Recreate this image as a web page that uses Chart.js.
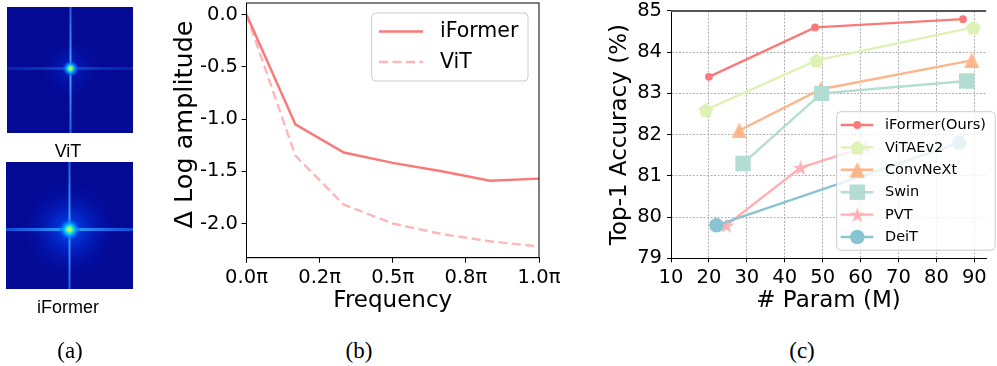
<!DOCTYPE html>
<html><head><meta charset="utf-8">
<script src="https://cdn.jsdelivr.net/npm/chart.js@4.4.0/dist/chart.umd.min.js"></script>
<style>
html,body{margin:0;padding:0;background:#fff;width:997px;height:366px;overflow:hidden;position:relative}
canvas{position:absolute}
.lab{position:absolute;font-family:'Liberation Serif','Times New Roman',serif;font-size:23px;color:#000;transform:translate(-50%,-50%);white-space:nowrap;line-height:1}
.sub{position:absolute;font-family:'Liberation Sans',Arial,sans-serif;font-size:18px;color:#000;transform:translate(-50%,-50%);white-space:nowrap;line-height:1}
</style></head><body>
<canvas id="specA" width="140" height="300" style="left:0;top:0"></canvas>
<div class="sub" style="left:68px;top:151px">ViT</div>
<div class="sub" style="left:68px;top:307px">iFormer</div>
<canvas id="chartB" width="430" height="330" style="left:170px;top:0"></canvas>
<canvas id="chartC" width="397" height="330" style="left:600px;top:0"></canvas>
<div class="lab" style="left:70px;top:350px">(a)</div>
<div class="lab" style="left:359px;top:350px">(b)</div>
<div class="lab" style="left:802px;top:350px">(c)</div>
<script>
// ---------- data: panel (b) ----------
const freqValues = [0, 0.167, 0.333, 0.5, 0.667, 0.833, 1.0];
const iformerAmp = [0, -1.05, -1.32, -1.42, -1.50, -1.59, -1.57];
const vitAmp = [0, -1.35, -1.82, -2.00, -2.10, -2.17, -2.22];
const freqTickValues = [0, 0.25, 0.5, 0.75, 1.0];
const freqTickLabels = ['0.0π', '0.2π', '0.5π', '0.8π', '1.0π'];
const ampTickValues = [-2.0, -1.5, -1.0, -0.5, 0];
const ampTickLabels = ['-2.0', '-1.5', '-1.0', '-0.5', '0.0'];
const ampSeriesNames = ['iFormer', 'ViT'];
const ampAxisTitle = 'Δ Log amplitude';

// ---------- data: panel (c) ----------
const modelNames = ['iFormer(Ours)', 'ViTAEv2', 'ConvNeXt', 'Swin', 'PVT', 'DeiT'];
const iformerParams = [20, 48, 87];      const iformerAcc = [83.4, 84.6, 84.8];
const vitaeParams = [19.2, 48.4, 89.7];  const vitaeAcc = [82.6, 83.8, 84.6];
const convnextParams = [28, 49.5, 89.3]; const convnextAcc = [82.1, 83.1, 83.8];
const swinParams = [29, 49.7, 88];       const swinAcc = [81.3, 83.0, 83.3];
const pvtParams = [24.6, 44.2, 61.4];    const pvtAcc = [79.8, 81.2, 81.7];
const deitParams = [22, 86];             const deitAcc = [79.8, 81.8];
const paramTicks = [10, 20, 30, 40, 50, 60, 70, 80, 90];
const accTicks = [79, 80, 81, 82, 83, 84, 85];

Chart.defaults.font.family = "'DejaVu Sans', sans-serif";
Chart.defaults.color = '#000';
Chart.defaults.animation = false;

// ---------- panel (a): decorative spectra ----------
(function(){
  const g = document.getElementById('specA').getContext('2d');
  function spectrum(x, y, w, h, cx, cy, wide) {
    g.save();
    g.beginPath(); g.rect(x, y, w, h); g.clip();
    g.fillStyle = 'rgb(4,10,148)'; g.fillRect(x, y, w, h);
    let R = wide ? 48 : 30;
    let gr = g.createRadialGradient(cx, cy, 0, cx, cy, R);
    if (wide) {
      gr.addColorStop(0, 'rgba(0,90,255,0.85)');
      gr.addColorStop(0.35, 'rgba(0,60,240,0.55)');
      gr.addColorStop(0.7, 'rgba(0,35,210,0.25)');
      gr.addColorStop(1, 'rgba(0,20,180,0)');
    } else {
      gr.addColorStop(0, 'rgba(0,60,240,0.5)');
      gr.addColorStop(1, 'rgba(0,20,180,0)');
    }
    g.fillStyle = gr; g.fillRect(x, y, w, h);
    let lg = g.createLinearGradient(x, 0, x + w, 0);
    const hA = wide ? 0.95 : 0.35;
    lg.addColorStop(0, 'rgba(20,110,255,' + (hA*0.7) + ')');
    lg.addColorStop(0.5, 'rgba(40,170,255,' + hA + ')');
    lg.addColorStop(1, 'rgba(20,110,255,' + (hA*0.7) + ')');
    g.fillStyle = lg; g.fillRect(x, cy - 1.5, w, 3);
    let vg = g.createLinearGradient(0, y, 0, y + h);
    vg.addColorStop(0, 'rgba(40,120,255,0.8)');
    vg.addColorStop(0.5, 'rgba(60,170,255,1)');
    vg.addColorStop(1, 'rgba(40,120,255,0.8)');
    g.fillStyle = vg; g.fillRect(cx - 1, y, 2, h);
    R = wide ? 11 : 8;
    gr = g.createRadialGradient(cx, cy, 0, cx, cy, R);
    gr.addColorStop(0, 'rgba(255,240,40,1)');
    gr.addColorStop(0.2, 'rgba(120,255,120,1)');
    gr.addColorStop(0.45, 'rgba(0,200,255,0.9)');
    gr.addColorStop(0.75, 'rgba(0,110,255,0.6)');
    gr.addColorStop(1, 'rgba(0,60,230,0)');
    g.fillStyle = gr; g.fillRect(cx - R, cy - R, 2*R, 2*R);
    g.restore();
  }
  spectrum(7, 7, 126, 126, 70.5, 68.5, false);
  spectrum(6, 162, 127, 127, 69.5, 229.5, true);
})();

// ---------- panel (b) ----------
const ampColors = ['#fa7878', '#ffb6b6'];
const ampDashes = [[], [9, 4.5]];
const ampSeries = [iformerAmp, vitAmp];

new Chart(document.getElementById('chartB'), {
  type: 'line',
  data: {
    datasets: ampSeries.map((s, k) => ({
      label: ampSeriesNames[k],
      data: freqValues.map((f, i) => ({x: f, y: s[i]})),
      borderColor: ampColors[k], borderWidth: 2.4, borderDash: ampDashes[k],
      pointRadius: 0, fill: false, tension: 0, order: k
    }))
  },
  options: {
    responsive: false, devicePixelRatio: 1, animation: false,
    layout: {padding: {top: 3, right: 61, left: 0, bottom: 0}},
    plugins: {legend: {display: false}, tooltip: {enabled: false}},
    scales: {
      x: {
        type: 'linear', min: 0, max: 1,
        afterBuildTicks: s => { s.ticks = freqTickValues.map(v => ({value: v})); },
        ticks: {callback: (v, i) => freqTickLabels[i], font: {size: 19.5}, color: '#000', padding: 4, maxRotation: 0, autoSkip: false},
        grid: {drawOnChartArea: false, drawTicks: true, tickLength: 5, tickColor: '#000', color: '#000'},
        border: {display: true, color: '#000', width: 1},
        title: {display: true, text: 'Frequency', font: {size: 23, lineHeight: 1}, color: '#000', padding: {top: 0, bottom: 17.5}},
        afterFit: s => { s.height = 72.3; s.paddingLeft = 0; s.paddingRight = 0; }
      },
      y: {
        type: 'linear', min: -2.327, max: 0.111,
        afterBuildTicks: s => { s.ticks = ampTickValues.map(v => ({value: v})); },
        ticks: {callback: (v, i) => ampTickLabels[i], font: {size: 19.5}, color: '#000', padding: 3.5, autoSkip: false},
        grid: {drawOnChartArea: false, drawTicks: true, tickLength: 5, tickColor: '#000', color: '#000'},
        border: {display: true, color: '#000', width: 1},
        title: {display: false},
        afterFit: s => { s.width = 76.5; s.paddingTop = 0; s.paddingBottom = 0; }
      }
    }
  },
  plugins: [{
    id: 'frameLegendB',
    afterDraw(chart) {
      const ctx = chart.ctx, a = chart.chartArea;
      ctx.save();
      ctx.strokeStyle = '#000'; ctx.lineWidth = 1;
      ctx.strokeRect(a.left, a.top, a.right - a.left, a.bottom - a.top);
      // y axis title
      ctx.save();
      ctx.translate(15, 124.5); ctx.rotate(-Math.PI / 2);
      ctx.font = "25.5px 'DejaVu Sans', sans-serif"; ctx.textAlign = 'center'; ctx.textBaseline = 'middle';
      ctx.fillStyle = '#000'; ctx.fillText(ampAxisTitle, 0, 0);
      ctx.restore();
      // legend box
      const bx = 201.7, by = 13, bw = 156.3, bh = 68;
      ctx.beginPath(); ctx.roundRect(bx, by, bw, bh, 4);
      ctx.fillStyle = 'rgba(255,255,255,0.8)'; ctx.fill();
      ctx.strokeStyle = '#cccccc'; ctx.lineWidth = 1; ctx.stroke();
      const ys = [31.5, 62];
      ctx.font = "20.5px 'DejaVu Sans', sans-serif"; ctx.textBaseline = 'middle'; ctx.textAlign = 'left';
      ampSeriesNames.forEach((n, k) => {
        ctx.beginPath(); ctx.setLineDash(ampDashes[k]);
        ctx.strokeStyle = ampColors[k]; ctx.lineWidth = 2.4;
        ctx.moveTo(209, ys[k]); ctx.lineTo(253, ys[k]); ctx.stroke();
        ctx.setLineDash([]);
        ctx.fillStyle = '#000'; ctx.fillText(n, 270, ys[k] + 0.5);
      });
      ctx.restore();
    }
  }]
});

// ---------- panel (c) ----------
function makeMarker(kind, size, color) {
  const c = document.createElement('canvas');
  c.width = size; c.height = size;
  const g = c.getContext('2d');
  g.fillStyle = color;
  const m = size / 2;
  g.beginPath();
  if (kind === 'pentagon') {
    const r = m - 0.3;
    for (let k = 0; k < 5; k++) {
      const a = -Math.PI / 2 + k * 2 * Math.PI / 5;
      const px = m + r * Math.cos(a), py = m + 0.8 + r * Math.sin(a);
      if (k) g.lineTo(px, py); else g.moveTo(px, py);
    }
  } else if (kind === 'star') {
    const R = m - 0.2, rr = R * 0.382;
    for (let k = 0; k < 10; k++) {
      const a = -Math.PI / 2 + k * Math.PI / 5;
      const r = k % 2 ? rr : R;
      const px = m + r * Math.cos(a), py = m + 0.8 + r * Math.sin(a);
      if (k) g.lineTo(px, py); else g.moveTo(px, py);
    }
  } else if (kind === 'triangle') {
    g.moveTo(m, 0.3); g.lineTo(size - 0.3, size - 0.3); g.lineTo(0.3, size - 0.3);
  }
  g.closePath(); g.fill();
  return c;
}

const modelColors = ['#f97a7a', '#ddf2b4', '#fdb68b', '#b3ddd2', '#ffb0b3', '#88c4d2'];
const modelParams = [iformerParams, vitaeParams, convnextParams, swinParams, pvtParams, deitParams];
const modelAcc = [iformerAcc, vitaeAcc, convnextAcc, swinAcc, pvtAcc, deitAcc];
const modelStyles = [
  'circle',
  makeMarker('pentagon', 16, modelColors[1]),
  makeMarker('triangle', 16, modelColors[2]),
  'rect',
  makeMarker('star', 17, modelColors[4]),
  'circle'
];
const modelRadius = [3.9, 8, 8, 10.9, 8, 7.3];

function drawMarker(ctx, style, r, color, x, y) {
  if (typeof style !== 'string') { ctx.drawImage(style, x - style.width / 2, y - style.height / 2); return; }
  ctx.fillStyle = color;
  if (style === 'circle') { ctx.beginPath(); ctx.arc(x, y, r, 0, Math.PI * 2); ctx.fill(); }
  else if (style === 'rect') { const h = r * Math.SQRT1_2; ctx.fillRect(x - h, y - h, 2 * h, 2 * h); }
}

new Chart(document.getElementById('chartC'), {
  type: 'line',
  data: {
    datasets: modelNames.map((n, k) => ({
      label: n,
      data: modelParams[k].map((p, i) => ({x: p, y: modelAcc[k][i]})),
      borderColor: modelColors[k], backgroundColor: modelColors[k],
      pointBackgroundColor: modelColors[k], pointBorderColor: modelColors[k], pointBorderWidth: 0,
      pointStyle: modelStyles[k], pointRadius: modelRadius[k], pointHoverRadius: modelRadius[k],
      borderWidth: 2.4, fill: false, tension: 0, order: modelNames.length - k
    }))
  },
  options: {
    responsive: false, devicePixelRatio: 1, animation: false,
    layout: {padding: {top: 10.7, right: 0, left: 0, bottom: 0}},
    plugins: {legend: {display: false}, tooltip: {enabled: false}},
    scales: {
      x: {
        type: 'linear', min: 10, max: 93.1,
        afterBuildTicks: s => { s.ticks = paramTicks.map(v => ({value: v})); },
        ticks: {font: {size: 19.5}, color: '#000', padding: 4, maxRotation: 0, autoSkip: false},
        grid: {color: '#b0b0b0', lineWidth: 1, drawTicks: true, tickLength: 4, tickColor: '#000'},
        border: {display: true, color: '#000', width: 1, dash: [2, 1.5]},
        title: {display: true, text: '# Param (M)', font: {size: 23, lineHeight: 1}, color: '#000', padding: {top: 0, bottom: 17.5}},
        afterFit: s => { s.height = 71.7; s.paddingLeft = 0; s.paddingRight = 0; }
      },
      y: {
        type: 'linear', min: 79, max: 85,
        afterBuildTicks: s => { s.ticks = accTicks.map(v => ({value: v})); },
        ticks: {font: {size: 19.5}, color: '#000', padding: 5, autoSkip: false},
        grid: {color: '#b0b0b0', lineWidth: 1, drawTicks: true, tickLength: 4, tickColor: '#000'},
        border: {display: true, color: '#000', width: 1, dash: [2, 1.5]},
        title: {display: true, text: 'Top-1 Accuracy (%)', font: {size: 23, lineHeight: 1}, color: '#000', padding: {top: 8.5, bottom: 0}},
        afterFit: s => { s.width = 71; s.paddingTop = 0; s.paddingBottom = 0; }
      }
    }
  },
  plugins: [{
    id: 'frameLegendC',
    afterDraw(chart) {
      const ctx = chart.ctx, a = chart.chartArea;
      ctx.save();
      ctx.strokeStyle = '#555'; ctx.lineWidth = 2;
      ctx.beginPath(); ctx.moveTo(a.left, a.top); ctx.lineTo(a.right, a.top); ctx.stroke();
      const bx = 236.7, by = 111.7, bw = 158.5, bh = 138.5;
      ctx.beginPath(); ctx.roundRect(bx, by, bw, bh, 4);
      ctx.fillStyle = 'rgba(255,255,255,0.8)'; ctx.fill();
      ctx.strokeStyle = '#cccccc'; ctx.lineWidth = 1; ctx.stroke();
      ctx.font = "14.5px 'DejaVu Sans', sans-serif"; ctx.textBaseline = 'middle'; ctx.textAlign = 'left';
      modelNames.forEach((n, k) => {
        const y = 125 + k * 22.4;
        ctx.beginPath(); ctx.strokeStyle = modelColors[k]; ctx.lineWidth = 2.4;
        ctx.moveTo(240.7, y); ctx.lineTo(273.3, y); ctx.stroke();
        drawMarker(ctx, modelStyles[k], modelRadius[k], modelColors[k], 257.3, y);
        ctx.fillStyle = '#000'; ctx.fillText(n, 285, y + 0.5);
      });
      ctx.restore();
    }
  }]
});
</script>
</body></html>
